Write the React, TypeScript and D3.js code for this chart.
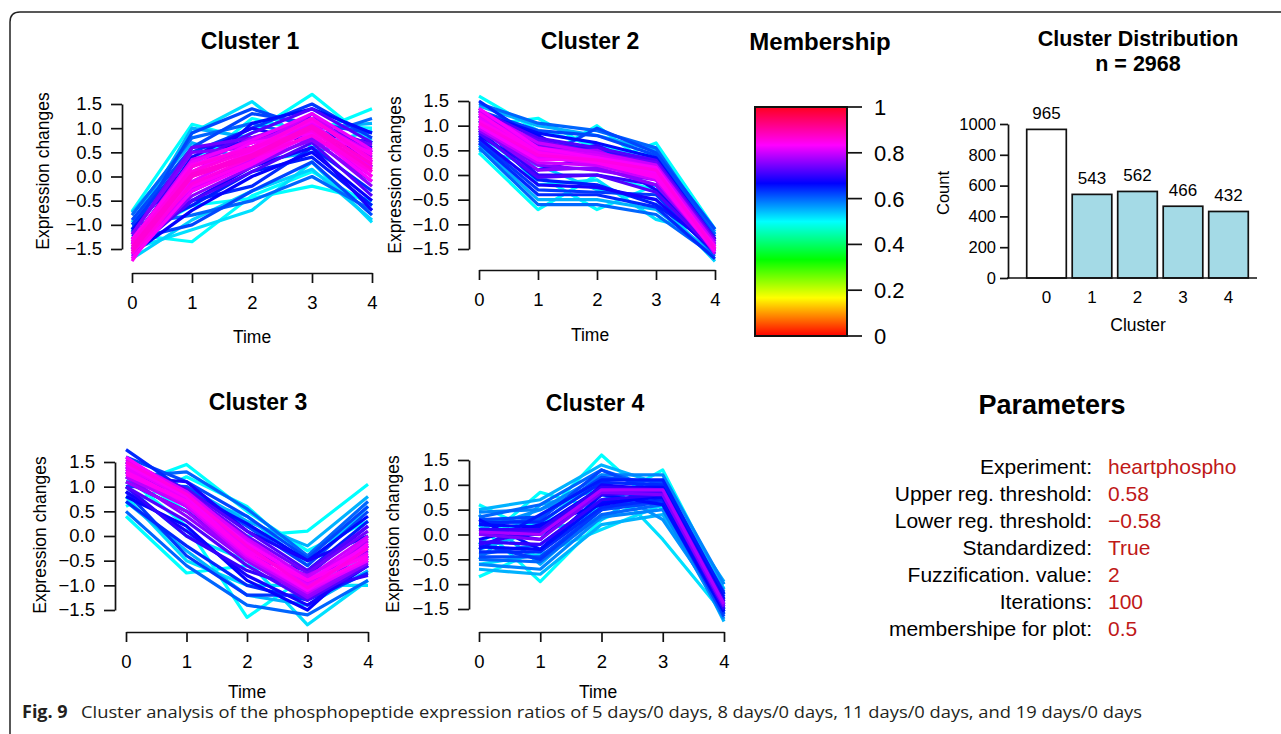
import React, { useEffect, useRef } from "react";
import * as d3 from "d3";

// time points and shared axis ticks
const timePoints = [0, 1, 2, 3, 4];
const exprTicks = [-1.5, -1.0, -0.5, 0.0, 0.5, 1.0, 1.5];

type Profile = { m: number; v: number[] };

// profiles: m = membership, v = values at time 0..4
const cluster1Profiles: Profile[] = [
  { m: 0.5, v: [-0.72, 1.08, 0.75, 1.05, 1.0] },
  { m: 0.52, v: [-0.95, 0.9, 1.55, 0.6, 0.95] },
  { m: 0.5, v: [-1.1, 0.4, 0.9, 1.7, 0.7] },
  { m: 0.5, v: [-1.0, 0.2, 1.2, 0.9, 1.4] },
  { m: 0.5, v: [-1.2, -1.35, -0.4, 0.1, -0.6] },
  { m: 0.52, v: [-1.5, -1.1, -0.7, 0.3, -0.95] },
  { m: 0.5, v: [-1.3, -0.6, -0.45, -0.2, -0.5] },
  { m: 0.53, v: [-1.7, -0.9, -0.3, 0.15, -0.9] },
  { m: 0.55, v: [-0.75, 0.7, 0.3, 0.5, 0.8] },
  { m: 0.55, v: [-1.1, 1.0, 0.8, 1.0, 1.1] },
  { m: 0.6, v: [-0.8, 0.8, 1.1, 0.8, 1.2] },
  { m: 0.6, v: [-1.0, -0.8, -0.5, 0.0, -0.7] },
  { m: 0.62, v: [-0.9, 0.6, 1.3, 1.1, 0.9] },
  { m: 0.63, v: [-1.0, 0.5, 1.0, 1.5, 0.8] },
  { m: 0.62, v: [-1.3, -1.0, -0.3, 0.3, -0.8] },
  { m: 0.62, v: [-1.15, 0.9, 1.4, 1.0, 0.6] },
  { m: 0.64, v: [-1.25, -0.5, -0.2, 0.6, -0.3] },
  { m: 0.65, v: [-1.2, -0.6, 0.1, 0.4, -0.6] },
  { m: 0.66, v: [-1.1, 0.3, 0.8, 0.9, 0.7] },
  { m: 0.66, v: [-1.35, 0.0, 1.1, 1.4, 0.9] },
  { m: 0.67, v: [-1.6, -0.7, 0.0, 0.5, -0.5] },
  { m: 0.68, v: [-1.4, 0.4, 1.0, 0.7, 0.6] },
  { m: 0.68, v: [-1.45, -0.5, 0.2, 0.6, -0.7] },
  { m: 0.7, v: [-1.3, -0.3, 0.3, 1.3, 0.2] },
  { m: 0.7, v: [-1.5, 0.6, 0.7, 1.2, 0.5] },
  { m: 0.72, v: [-1.3, 0.3, 0.9, 1.4, 0.7] },
  { m: 0.72, v: [-1.55, -0.5, 0.1, 0.7, -0.4] },
  { m: 0.74, v: [-1.2, 0.6, 0.8, 1.1, 0.65] },
  { m: 0.75, v: [-1.2, 0.5, 0.6, 0.9, 0.5] },
  { m: 0.76, v: [-1.6, -0.4, 0.2, 0.8, -0.2] },
  { m: 0.76, v: [-1.65, -0.3, 0.3, 0.75, -0.1] },
  { m: 0.78, v: [-1.4, 0.2, 0.8, 1.2, 0.4] },
  { m: 0.79, v: [-1.7, -0.2, 0.4, 1.0, 0.0] },
  { m: 0.8, v: [-1.3, 0.1, 0.6, 1.3, 0.3] },
  { m: 0.8, v: [-1.35, 0.35, 0.7, 1.15, 0.5] },
  { m: 0.81, v: [-1.55, -0.25, 0.35, 0.85, 0.0] },
  { m: 0.82, v: [-1.4, 0.3, 0.75, 1.3, 0.55] },
  { m: 0.82, v: [-1.5, -0.1, 0.5, 1.1, 0.2] },
  { m: 0.83, v: [-1.6, 0.1, 0.7, 0.9, 0.5] },
  { m: 0.83, v: [-1.7, -0.3, 0.25, 0.9, -0.1] },
  { m: 0.84, v: [-1.4, -0.2, 0.3, 1.0, 0.0] },
  { m: 0.84, v: [-1.3, 0.25, 0.6, 1.15, 0.45] },
  { m: 0.84, v: [-1.75, 0.0, 0.5, 1.2, 0.3] },
  { m: 0.85, v: [-1.6, -0.15, 0.4, 0.85, 0.1] },
  { m: 0.85, v: [-1.5, 0.2, 0.6, 0.95, 0.1] },
  { m: 0.85, v: [-1.35, 0.1, 0.55, 1.2, 0.35] },
  { m: 0.86, v: [-1.55, 0.0, 0.4, 1.0, 0.15] },
  { m: 0.86, v: [-1.45, 0.05, 0.45, 1.05, 0.25] },
];

const cluster2Profiles: Profile[] = [
  { m: 0.5, v: [1.6, 0.9, 0.6, 0.3, -1.3] },
  { m: 0.5, v: [1.0, 1.15, 0.5, 0.4, -1.2] },
  { m: 0.5, v: [0.9, 0.3, 1.0, 0.1, -1.4] },
  { m: 0.5, v: [1.2, 0.6, 0.2, 0.65, -1.1] },
  { m: 0.5, v: [0.45, -0.7, 0.0, -0.3, -1.3] },
  { m: 0.5, v: [0.8, 0.0, -0.7, -0.2, -1.5] },
  { m: 0.52, v: [1.1, -0.2, -0.1, -0.9, -1.2] },
  { m: 0.53, v: [0.5, 0.2, -0.3, -0.5, -1.75] },
  { m: 0.55, v: [1.4, 1.0, 0.8, 0.5, -1.15] },
  { m: 0.55, v: [0.6, -0.5, -0.5, -0.7, -1.6] },
  { m: 0.6, v: [1.45, 1.05, 0.9, 0.55, -1.2] },
  { m: 0.6, v: [0.55, -0.6, -0.6, -0.8, -1.65] },
  { m: 0.62, v: [1.3, 0.9, 0.8, 0.4, -1.25] },
  { m: 0.62, v: [1.35, 0.3, 0.95, 0.45, -1.1] },
  { m: 0.63, v: [0.7, -0.3, -0.35, -0.4, -1.6] },
  { m: 0.64, v: [1.5, 0.7, 0.5, 0.3, -1.3] },
  { m: 0.64, v: [0.65, -0.4, -0.4, -0.65, -1.7] },
  { m: 0.65, v: [0.9, -0.1, -0.2, -0.6, -1.45] },
  { m: 0.66, v: [1.25, 0.85, 0.65, 0.35, -1.3] },
  { m: 0.67, v: [1.2, 0.8, 0.2, 0.2, -1.4] },
  { m: 0.68, v: [0.8, 0.1, 0.4, -0.3, -1.5] },
  { m: 0.68, v: [0.75, -0.2, -0.25, -0.5, -1.55] },
  { m: 0.7, v: [1.1, 0.4, 0.6, 0.1, -1.35] },
  { m: 0.7, v: [1.0, 0.0, 0.0, -0.2, -1.55] },
  { m: 0.72, v: [1.3, 0.75, 0.55, 0.3, -1.3] },
  { m: 0.72, v: [0.85, -0.05, 0.0, -0.35, -1.55] },
  { m: 0.74, v: [1.2, 0.7, 0.45, 0.25, -1.35] },
  { m: 0.75, v: [1.2, 0.6, 0.4, 0.2, -1.35] },
  { m: 0.76, v: [0.9, 0.2, 0.1, -0.1, -1.5] },
  { m: 0.76, v: [0.95, 0.1, 0.15, -0.2, -1.5] },
  { m: 0.78, v: [1.3, 0.5, 0.5, 0.0, -1.45] },
  { m: 0.79, v: [1.0, 0.4, 0.2, 0.1, -1.6] },
  { m: 0.8, v: [1.3, 0.65, 0.45, 0.2, -1.4] },
  { m: 0.8, v: [0.95, 0.25, 0.2, -0.1, -1.55] },
  { m: 0.81, v: [1.2, 0.55, 0.4, 0.15, -1.45] },
  { m: 0.82, v: [1.15, 0.5, 0.3, 0.05, -1.45] },
  { m: 0.82, v: [1.0, 0.35, 0.25, -0.05, -1.5] },
  { m: 0.83, v: [1.0, 0.3, 0.35, 0.15, -1.5] },
  { m: 0.83, v: [1.35, 0.55, 0.35, 0.05, -1.5] },
  { m: 0.84, v: [1.25, 0.45, 0.25, -0.05, -1.55] },
  { m: 0.84, v: [1.1, 0.45, 0.3, 0.0, -1.45] },
  { m: 0.85, v: [1.05, 0.4, 0.3, 0.1, -1.5] },
];

const cluster3Profiles: Profile[] = [
  { m: 0.5, v: [1.0, 1.45, 0.5, -0.3, 0.3] },
  { m: 0.5, v: [0.6, 1.2, 0.6, -0.5, 0.0] },
  { m: 0.5, v: [1.3, 0.5, 0.0, 0.1, 1.05] },
  { m: 0.5, v: [0.4, -0.75, -0.6, -0.9, -0.6] },
  { m: 0.5, v: [1.2, 0.2, -1.65, -0.8, -0.5] },
  { m: 0.52, v: [1.0, 0.0, -0.5, -1.8, -0.9] },
  { m: 0.52, v: [0.8, -0.5, -1.0, -1.0, -1.0] },
  { m: 0.53, v: [1.5, 0.8, 0.4, -0.6, 0.6] },
  { m: 0.55, v: [1.1, 1.0, 0.3, -0.2, 0.8] },
  { m: 0.55, v: [0.7, -0.3, -1.2, -1.4, -0.7] },
  { m: 0.6, v: [1.2, 1.3, 0.55, -0.4, 0.7] },
  { m: 0.6, v: [0.5, -0.6, -1.4, -1.6, -0.9] },
  { m: 0.62, v: [1.0, 1.0, 0.2, -0.6, 0.5] },
  { m: 0.62, v: [1.6, 1.1, 0.4, -0.45, 0.6] },
  { m: 0.63, v: [0.9, -0.4, -1.2, -1.2, -0.6] },
  { m: 0.64, v: [1.75, 0.9, -0.2, -1.3, -0.2] },
  { m: 0.64, v: [0.7, -0.2, -1.0, -1.3, -0.75] },
  { m: 0.65, v: [1.1, 0.5, -0.4, -0.7, 0.3] },
  { m: 0.66, v: [1.3, 0.9, 0.25, -0.5, 0.4] },
  { m: 0.67, v: [0.8, 0.2, -0.9, -1.5, -0.4] },
  { m: 0.68, v: [1.2, 1.1, 0.1, -0.5, 0.0] },
  { m: 0.68, v: [0.9, 0.1, -0.8, -1.4, -0.6] },
  { m: 0.7, v: [1.0, 0.0, -0.7, -1.1, -0.8] },
  { m: 0.7, v: [1.4, 0.6, -0.3, -0.8, 0.2] },
  { m: 0.72, v: [1.5, 0.95, 0.1, -0.7, 0.2] },
  { m: 0.72, v: [1.0, 0.3, -0.6, -1.3, -0.6] },
  { m: 0.74, v: [1.35, 0.9, 0.0, -0.75, 0.1] },
  { m: 0.75, v: [1.3, 0.7, -0.2, -0.9, -0.3] },
  { m: 0.76, v: [1.2, 0.4, -0.5, -1.25, -0.55] },
  { m: 0.77, v: [1.1, 0.5, -0.5, -1.2, -0.5] },
  { m: 0.78, v: [1.5, 0.8, -0.1, -1.0, -0.1] },
  { m: 0.79, v: [1.2, 0.6, -0.4, -0.8, -0.2] },
  { m: 0.8, v: [1.45, 0.85, -0.05, -0.85, 0.0] },
  { m: 0.8, v: [1.3, 0.6, -0.45, -1.15, -0.45] },
  { m: 0.81, v: [1.55, 0.9, -0.1, -0.95, -0.05] },
  { m: 0.82, v: [1.4, 0.75, -0.25, -1.0, -0.35] },
  { m: 0.82, v: [1.35, 0.65, -0.4, -1.1, -0.5] },
  { m: 0.83, v: [1.6, 0.8, -0.35, -1.1, -0.15] },
  { m: 0.83, v: [1.45, 0.8, -0.15, -0.9, -0.2] },
  { m: 0.84, v: [1.25, 0.7, -0.3, -0.9, -0.4] },
  { m: 0.84, v: [1.3, 0.7, -0.35, -1.05, -0.45] },
  { m: 0.85, v: [1.5, 0.85, -0.2, -1.05, -0.25] },
];

const cluster4Profiles: Profile[] = [
  { m: 0.5, v: [0.6, 0.0, 0.8, 0.6, -1.2] },
  { m: 0.5, v: [-0.2, 0.85, 0.5, 1.0, -1.0] },
  { m: 0.5, v: [0.0, 0.3, 1.6, 0.5, -1.5] },
  { m: 0.5, v: [-0.85, -0.3, 0.6, 1.3, -1.1] },
  { m: 0.5, v: [0.2, -0.95, 0.3, 0.8, -1.4] },
  { m: 0.52, v: [-0.6, -0.4, 0.1, 0.6, -1.3] },
  { m: 0.52, v: [0.3, 0.2, 1.2, -0.1, -1.6] },
  { m: 0.55, v: [-0.5, 0.6, 0.9, 0.9, -0.95] },
  { m: 0.55, v: [0.4, -0.6, 0.5, 0.7, -1.75] },
  { m: 0.55, v: [-0.3, 0.1, 0.3, 1.1, -1.2] },
  { m: 0.55, v: [0.5, 0.7, 1.4, 1.0, -1.1] },
  { m: 0.55, v: [-0.7, -0.8, 0.2, 0.4, -1.6] },
  { m: 0.57, v: [0.1, 0.5, 1.0, 0.3, -1.5] },
  { m: 0.58, v: [0.45, 0.5, 1.2, 1.2, -1.0] },
  { m: 0.58, v: [-0.6, -0.7, 0.35, 0.5, -1.7] },
  { m: 0.6, v: [-0.4, -0.2, 0.7, 1.0, -1.3] },
  { m: 0.6, v: [0.35, 0.6, 1.3, 0.9, -1.15] },
  { m: 0.6, v: [-0.5, -0.55, 0.4, 0.6, -1.6] },
  { m: 0.62, v: [0.2, 0.3, 1.3, 0.8, -1.5] },
  { m: 0.62, v: [0.3, 0.35, 1.15, 1.05, -1.2] },
  { m: 0.62, v: [-0.45, -0.45, 0.5, 0.65, -1.65] },
  { m: 0.63, v: [-0.2, -0.5, 0.5, 0.9, -1.6] },
  { m: 0.64, v: [0.0, 0.0, 0.9, 0.7, -1.4] },
  { m: 0.64, v: [0.25, 0.25, 1.05, 1.0, -1.25] },
  { m: 0.64, v: [-0.35, -0.35, 0.55, 0.7, -1.55] },
  { m: 0.65, v: [-0.3, 0.4, 1.1, 1.1, -1.2] },
  { m: 0.66, v: [0.3, -0.3, 0.8, 0.6, -1.55] },
  { m: 0.66, v: [0.2, 0.15, 0.95, 0.95, -1.3] },
  { m: 0.66, v: [-0.25, -0.3, 0.65, 0.75, -1.55] },
  { m: 0.67, v: [-0.1, 0.2, 0.6, 0.8, -1.35] },
  { m: 0.68, v: [0.1, -0.1, 1.0, 0.9, -1.45] },
  { m: 0.7, v: [-0.2, 0.1, 0.8, 0.85, -1.5] },
  { m: 0.7, v: [0.1, 0.1, 0.95, 0.9, -1.35] },
  { m: 0.7, v: [-0.15, -0.2, 0.7, 0.8, -1.5] },
  { m: 0.72, v: [0.05, 0.05, 0.85, 0.85, -1.4] },
  { m: 0.75, v: [0.0, -0.1, 0.85, 0.8, -1.45] },
  { m: 0.78, v: [0.05, 0.0, 0.9, 0.9, -1.4] },
];

// cluster distribution
const clusterIds = ["0", "1", "2", "3", "4"];
const clusterCounts = [965, 543, 562, 466, 432];
const countTicks = [0, 200, 400, 600, 800, 1000];

// membership colour bar
const membershipTicks = [0, 0.2, 0.4, 0.6, 0.8, 1];

// parameter table
const paramLabels = [
  "Experiment:",
  "Upper reg. threshold:",
  "Lower reg. threshold:",
  "Standardized:",
  "Fuzzification. value:",
  "Iterations:",
  "membershipe for plot:",
];
const paramValues = ["heartphospho", "0.58", "\u22120.58", "True", "2", "100", "0.5"];

const FONT = "'Liberation Sans', Arial, Helvetica, sans-serif";

const panels = [
  { title: "Cluster 1", data: cluster1Profiles, x0: 132, x1: 372, yTop: 104, yBot: 249, axisX: 122, axisY: 273, titleX: 250, titleY: 41, labX: 43, labY: 171, timeX: 252, timeY: 337 },
  { title: "Cluster 2", data: cluster2Profiles, x0: 479, x1: 715, yTop: 101, yBot: 249, axisX: 469, axisY: 270, titleX: 590, titleY: 41, labX: 395, labY: 175, timeX: 590, timeY: 335 },
  { title: "Cluster 3", data: cluster3Profiles, x0: 126, x1: 368, yTop: 462, yBot: 610, axisX: 115, axisY: 632, titleX: 258, titleY: 402, labX: 40, labY: 535, timeX: 247, timeY: 692 },
  { title: "Cluster 4", data: cluster4Profiles, x0: 479, x1: 724, yTop: 460, yBot: 609, axisX: 469, axisY: 632, titleX: 595, titleY: 403, labX: 393, labY: 534, timeX: 598, timeY: 692 },
];

const memberColor = (m: number) => d3.hsl(m * 360, 1, 0.5).toString();

const App = () => {
  const svgRef = useRef<SVGSVGElement>(null);

  useEffect(() => {
    const svg = d3.select(svgRef.current);
    svg.selectAll("*").remove();

    // frame
    svg.append("path")
      .attr("d", "M10,734 L10,22 Q10,12 20,12 L1281,12")
      .attr("fill", "none")
      .attr("stroke", "#222")
      .attr("stroke-width", 1.5);

    // cluster panels
    panels.forEach((p) => {
      const g = svg.append("g");
      const x = d3.scaleLinear().domain([0, 4]).range([p.x0, p.x1]);
      const y = d3.scaleLinear().domain([-1.5, 1.5]).range([p.yBot, p.yTop]);
      const line = d3.line<number>().x((_, i) => x(timePoints[i])).y((d) => y(d));

      const sorted = [...p.data].sort((a, b) => a.m - b.m);
      g.selectAll("path.prof")
        .data(sorted)
        .join("path")
        .attr("class", "prof")
        .attr("d", (d) => line(d.v))
        .attr("fill", "none")
        .attr("stroke", (d) => memberColor(d.m))
        .attr("stroke-width", 3.2)
        .attr("stroke-linejoin", "round");

      const yAx = g.append("g")
        .attr("transform", `translate(${p.axisX},0)`)
        .call(d3.axisLeft(y).tickValues(exprTicks).tickFormat(d3.format(".1f")).tickSize(11).tickSizeOuter(0).tickPadding(9));
      const xAx = g.append("g")
        .attr("transform", `translate(0,${p.axisY})`)
        .call(d3.axisBottom(x).tickValues(timePoints).tickFormat(d3.format("d")).tickSize(10).tickSizeOuter(0).tickPadding(13));
      [yAx, xAx].forEach((ax) => {
        ax.selectAll("path,line").attr("stroke", "#111").attr("stroke-width", 1.7);
        ax.selectAll("text").attr("font-family", FONT).attr("font-size", 18.5).attr("fill", "#000");
      });

      g.append("text")
        .attr("x", p.titleX).attr("y", p.titleY).attr("dy", "0.35em")
        .attr("text-anchor", "middle").attr("font-family", FONT)
        .attr("font-weight", "bold").attr("font-size", 23).attr("fill", "#000")
        .text(p.title);
      g.append("text")
        .attr("transform", `translate(${p.labX},${p.labY}) rotate(-90)`)
        .attr("dy", "0.35em").attr("text-anchor", "middle")
        .attr("font-family", FONT).attr("font-size", 17.5).attr("fill", "#000")
        .text("Expression changes");
      g.append("text")
        .attr("x", p.timeX).attr("y", p.timeY).attr("dy", "0.35em")
        .attr("text-anchor", "middle").attr("font-family", FONT)
        .attr("font-size", 17.5).attr("fill", "#000")
        .text("Time");
    });

    // membership colour bar
    const mScale = d3.scaleLinear().domain([0, 1]).range([336, 107]);
    const defs = svg.append("defs");
    const grad = defs.append("linearGradient")
      .attr("id", "memGrad").attr("x1", 0).attr("y1", 1).attr("x2", 0).attr("y2", 0);
    d3.range(0, 7).forEach((k) => {
      grad.append("stop").attr("offset", k / 6).attr("stop-color", memberColor(k / 6 === 1 ? 0.98 : k / 6));
    });
    svg.append("rect")
      .attr("x", 755).attr("y", mScale(1)).attr("width", 92).attr("height", mScale(0) - mScale(1))
      .attr("fill", "url(#memGrad)").attr("stroke", "#111").attr("stroke-width", 2);
    const mt = svg.append("g");
    mt.selectAll("line").data(membershipTicks).join("line")
      .attr("x1", 847).attr("x2", 862)
      .attr("y1", (d) => mScale(d)).attr("y2", (d) => mScale(d))
      .attr("stroke", "#111").attr("stroke-width", 1.7);
    mt.selectAll("text").data(membershipTicks).join("text")
      .attr("x", 874).attr("y", (d) => mScale(d)).attr("dy", "0.36em")
      .attr("font-family", FONT).attr("font-size", 22).attr("fill", "#000")
      .text((d) => String(d));
    svg.append("text")
      .attr("x", 820).attr("y", 42).attr("dy", "0.35em").attr("text-anchor", "middle")
      .attr("font-family", FONT).attr("font-weight", "bold").attr("font-size", 24).attr("fill", "#000")
      .text("Membership");

    // cluster distribution bar chart
    const bx = d3.scaleBand().domain(clusterIds).range([1020.8, 1254.2]).padding(0.13);
    const by = d3.scaleLinear().domain([0, 1000]).range([278, 124]);
    const bg = svg.append("g");
    bg.selectAll("rect").data(clusterCounts).join("rect")
      .attr("x", (_, i) => bx(clusterIds[i])!)
      .attr("y", (d) => by(d))
      .attr("width", bx.bandwidth())
      .attr("height", (d) => by(0) - by(d))
      .attr("fill", (_, i) => (i === 0 ? "#ffffff" : "#a4dae6"))
      .attr("stroke", "#111").attr("stroke-width", 1.7);
    bg.selectAll("text.val").data(clusterCounts).join("text")
      .attr("class", "val")
      .attr("x", (_, i) => bx(clusterIds[i])! + bx.bandwidth() / 2)
      .attr("y", (d) => by(d) - 16).attr("dy", "0.35em").attr("text-anchor", "middle")
      .attr("font-family", FONT).attr("font-size", 17).attr("fill", "#000")
      .text((d) => String(d));
    bg.selectAll("text.cat").data(clusterIds).join("text")
      .attr("class", "cat")
      .attr("x", (d) => bx(d)! + bx.bandwidth() / 2)
      .attr("y", 297).attr("dy", "0.35em").attr("text-anchor", "middle")
      .attr("font-family", FONT).attr("font-size", 17).attr("fill", "#000")
      .text((d) => d);
    bg.append("line")
      .attr("x1", 1007).attr("x2", 1257).attr("y1", by(0)).attr("y2", by(0))
      .attr("stroke", "#111").attr("stroke-width", 1.7);
    const bAx = bg.append("g")
      .attr("transform", "translate(1008,0)")
      .call(d3.axisLeft(by).tickValues(countTicks).tickFormat(d3.format("d")).tickSize(8).tickSizeOuter(0).tickPadding(4));
    bAx.selectAll("path,line").attr("stroke", "#111").attr("stroke-width", 1.7);
    bAx.selectAll("text").attr("font-family", FONT).attr("font-size", 16.5).attr("fill", "#000");
    bg.append("text")
      .attr("transform", "translate(943,193) rotate(-90)").attr("dy", "0.35em").attr("text-anchor", "middle")
      .attr("font-family", FONT).attr("font-size", 16.5).attr("fill", "#000").text("Count");
    bg.append("text")
      .attr("x", 1138).attr("y", 325).attr("dy", "0.35em").attr("text-anchor", "middle")
      .attr("font-family", FONT).attr("font-size", 17.5).attr("fill", "#000").text("Cluster");
    bg.append("text")
      .attr("x", 1138).attr("y", 38).attr("dy", "0.35em").attr("text-anchor", "middle")
      .attr("font-family", FONT).attr("font-weight", "bold").attr("font-size", 21.5).attr("fill", "#000")
      .text("Cluster Distribution");
    bg.append("text")
      .attr("x", 1138).attr("y", 63).attr("dy", "0.35em").attr("text-anchor", "middle")
      .attr("font-family", FONT).attr("font-weight", "bold").attr("font-size", 21.5).attr("fill", "#000")
      .text("n = 2968");

    // parameters
    const pg = svg.append("g");
    pg.append("text")
      .attr("x", 1052).attr("y", 405).attr("dy", "0.35em").attr("text-anchor", "middle")
      .attr("font-family", FONT).attr("font-weight", "bold").attr("font-size", 27).attr("fill", "#000")
      .text("Parameters");
    const rowY = d3.scaleLinear().domain([0, paramLabels.length - 1]).range([467, 629]);
    pg.selectAll("text.lab").data(paramLabels).join("text")
      .attr("class", "lab")
      .attr("x", 1092).attr("y", (_, i) => rowY(i)).attr("dy", "0.35em").attr("text-anchor", "end")
      .attr("font-family", FONT).attr("font-size", 21).attr("fill", "#000")
      .text((d) => d);
    pg.selectAll("text.pv").data(paramValues).join("text")
      .attr("class", "pv")
      .attr("x", 1108).attr("y", (_, i) => rowY(i)).attr("dy", "0.35em")
      .attr("font-family", FONT).attr("font-size", 21).attr("fill", "#c01818")
      .text((d) => d);

    // caption
    svg.append("text")
      .attr("x", 22).attr("y", 718)
      .attr("font-family", "'Open Sans', 'Noto Sans', sans-serif").attr("font-weight", "bold")
      .attr("font-size", 18).attr("fill", "#231f20")
      .text("Fig. 9");
    svg.append("text")
      .attr("x", 81).attr("y", 718)
      .attr("font-family", "'Open Sans', 'Noto Sans', sans-serif")
      .attr("font-size", 17).attr("fill", "#231f20")
      .attr("textLength", 1061).attr("lengthAdjust", "spacingAndGlyphs")
      .text("Cluster analysis of the phosphopeptide expression ratios of 5 days/0 days, 8 days/0 days, 11 days/0 days, and 19 days/0 days");
  }, []);

  return (
    <svg
      ref={svgRef}
      width={1281}
      height={734}
      style={{ position: "absolute", left: 0, top: 0, background: "#fff" }}
    />
  );
};

export default App;
